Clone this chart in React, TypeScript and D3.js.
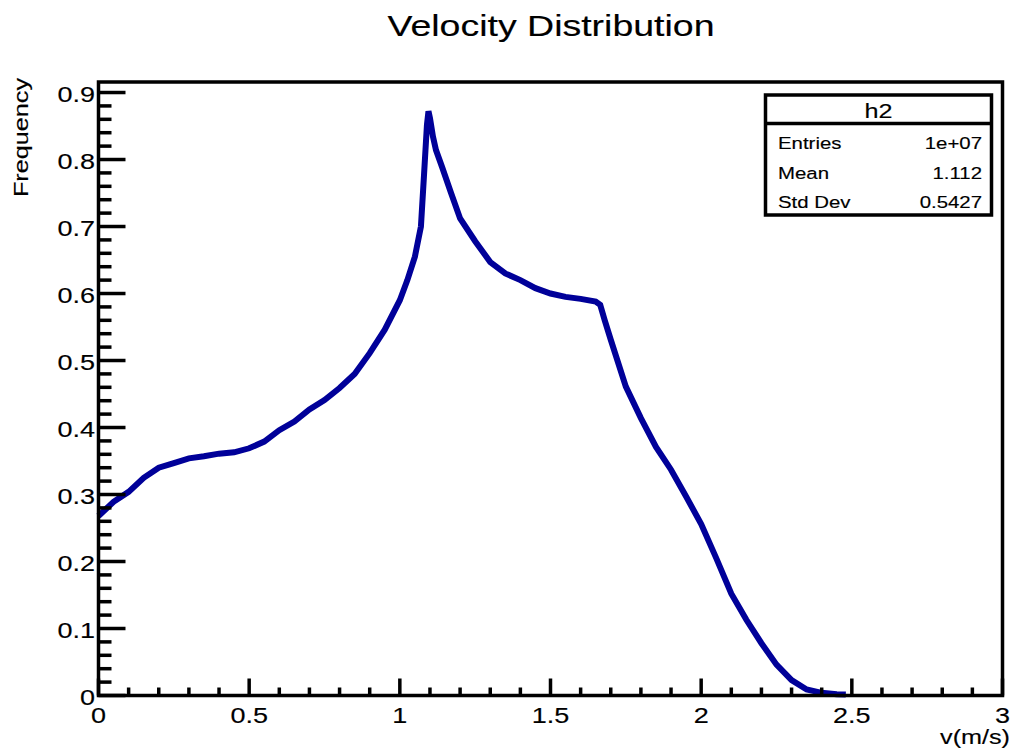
import React from "react";
import * as d3 from "d3";

const velocity = [0, 0.05, 0.1, 0.15, 0.2, 0.25, 0.3, 0.35, 0.4, 0.45, 0.5, 0.55, 0.6, 0.65, 0.7, 0.75, 0.8, 0.85, 0.9, 0.95, 1.0, 1.025, 1.05, 1.07, 1.08, 1.09, 1.095, 1.1, 1.11, 1.12, 1.14, 1.17, 1.2, 1.25, 1.3, 1.35, 1.4, 1.45, 1.5, 1.55, 1.6, 1.65, 1.665, 1.68, 1.7, 1.75, 1.8, 1.85, 1.9, 1.95, 2.0, 2.05, 2.1, 2.15, 2.2, 2.25, 2.3, 2.35, 2.4, 2.45, 2.48];
const frequency = [0.268, 0.289, 0.304, 0.325, 0.34, 0.347, 0.354, 0.357, 0.361, 0.363, 0.369, 0.379, 0.396, 0.409, 0.427, 0.441, 0.459, 0.48, 0.511, 0.546, 0.59, 0.62, 0.655, 0.7, 0.775, 0.852, 0.872, 0.862, 0.834, 0.814, 0.789, 0.75, 0.712, 0.678, 0.647, 0.63, 0.62, 0.608, 0.6, 0.595, 0.592, 0.588, 0.583, 0.56, 0.531, 0.461, 0.414, 0.371, 0.337, 0.297, 0.256, 0.205, 0.152, 0.113, 0.078, 0.046, 0.023, 0.009, 0.004, 0.002, 0.0015];

const xMajorTicks = [0, 0.5, 1, 1.5, 2, 2.5, 3];
const xTickLabels = ["0", "0.5", "1", "1.5", "2", "2.5", "3"];
const yMajorTicks = [0, 0.1, 0.2, 0.3, 0.4, 0.5, 0.6, 0.7, 0.8, 0.9];
const yTickLabels = ["0", "0.1", "0.2", "0.3", "0.4", "0.5", "0.6", "0.7", "0.8", "0.9"];

const statsTitle = "h2";
const statsNames = ["Entries", "Mean", "Std Dev"];
const statsValues = ["1e+07", "1.112", "0.5427"];

const FONT = "'Liberation Sans', Arial, Helvetica, sans-serif";

function T({ x, y, size, anchor = "start", rotate = 0, sx = 1.2, children }: any) {
  return (
    <text
      transform={`translate(${x},${y}) rotate(${rotate}) scale(${sx},1)`}
      fontSize={size}
      fontFamily={FONT}
      textAnchor={anchor}
      fill="#000"
      stroke="#000"
      strokeWidth={0.15}
    >
      {children}
    </text>
  );
}

export default function App() {
  const left = 98.5, right = 1002.5, top = 82, bottom = 695.5;
  const x = d3.scaleLinear().domain([0, 3]).range([left, right]);
  const y = d3.scaleLinear().domain([0, 0.9157]).range([bottom, top]);

  const pts = velocity.map((v, i) => [v, frequency[i]] as [number, number]);
  const line = d3.line<[number, number]>().x(d => x(d[0])).y(d => y(d[1]));

  const xMinor = d3.range(0, 30).map(i => i / 10).filter(v => Math.abs(v * 2 - Math.round(v * 2)) > 1e-6);
  const yMinor = d3.range(0, 46).map(i => i / 50).filter(v => v <= 0.9157 && Math.abs(v * 10 - Math.round(v * 10)) > 1e-6);

  const bx0 = 765.5, bx1 = 991.5, by0 = 95, by1 = 215, bh = 123.5;
  const SW = 3.5;

  return (
    <svg width={1013} height={752} style={{ position: "absolute", left: 0, top: 0, background: "#fff" }}>
      <rect x={0} y={0} width={1013} height={752} fill="#fff" />
      <path d={line(pts) || ""} fill="none" stroke="#000099" strokeWidth={6} strokeLinejoin="miter" />
      {xMajorTicks.map((v, i) => (
        <line key={"xM" + i} x1={x(v)} x2={x(v)} y1={bottom} y2={bottom - 17} stroke="#000" strokeWidth={SW} />
      ))}
      {xMinor.map((v, i) => (
        <line key={"xm" + i} x1={x(v)} x2={x(v)} y1={bottom} y2={bottom - 8} stroke="#000" strokeWidth={SW} />
      ))}
      {yMajorTicks.map((v, i) => (
        <line key={"yM" + i} x1={left} x2={left + 27} y1={y(v)} y2={y(v)} stroke="#000" strokeWidth={SW} />
      ))}
      {yMinor.map((v, i) => (
        <line key={"ym" + i} x1={left} x2={left + 13} y1={y(v)} y2={y(v)} stroke="#000" strokeWidth={SW} />
      ))}
      <rect x={left} y={top} width={right - left} height={bottom - top} fill="none" stroke="#000" strokeWidth={SW} />
      {xMajorTicks.map((v, i) => (
        <T key={"xl" + i} x={x(v)} y={723} size={22.5} anchor="middle">{xTickLabels[i]}</T>
      ))}
      {yMajorTicks.map((v, i) => (
        <T key={"yl" + i} x={95} y={y(v) + 9} size={22.5} anchor="end">{yTickLabels[i]}</T>
      ))}
      <T x={551} y={36} size={30} anchor="middle" sx={1.25}>Velocity Distribution</T>
      <T x={1010} y={744} size={21} anchor="end">v(m/s)</T>
      <T x={28} y={78} size={21} anchor="end" rotate={-90}>Frequency</T>
      <rect x={bx0} y={by0} width={bx1 - bx0} height={by1 - by0} fill="#fff" stroke="#000" strokeWidth={SW} />
      <line x1={bx0} x2={bx1} y1={bh} y2={bh} stroke="#000" strokeWidth={SW} />
      <T x={(bx0 + bx1) / 2} y={118} size={21} anchor="middle">{statsTitle}</T>
      {statsNames.map((n, i) => (
        <T key={"sn" + i} x={778} y={149 + i * 29.5} size={17}>{n}</T>
      ))}
      {statsValues.map((n, i) => (
        <T key={"sv" + i} x={982} y={149 + i * 29.5} size={17} anchor="end">{n}</T>
      ))}
    </svg>
  );
}
